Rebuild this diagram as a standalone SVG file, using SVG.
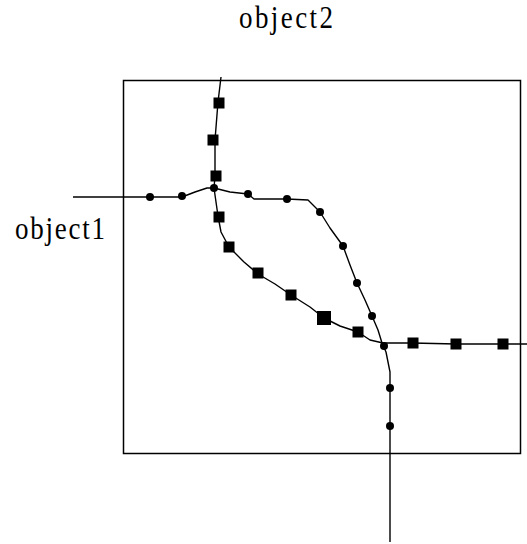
<svg xmlns="http://www.w3.org/2000/svg" width="527" height="544" viewBox="0 0 527 544">
<style>
.ln{fill:none;stroke:#000;stroke-width:1.4;stroke-linejoin:round}
.lbl{font-family:"Liberation Serif",serif;font-size:27px;fill:#000}
</style>
<defs>
<circle id="dot" r="4" fill="#000"/>
<rect id="sq" x="-5.5" y="-5.5" width="11" height="11" fill="#000"/>
</defs>
<rect x="123.5" y="80.5" width="397" height="373" fill="none" stroke="#000" stroke-width="1.5"/>
<g id="label-object2"><text class="lbl" transform="translate(239,27.5) scale(1,1.15)" textLength="94" lengthAdjust="spacing">object2</text></g>
<g id="label-object1"><text class="lbl" transform="translate(15,239) scale(1,1.15)" textLength="90" lengthAdjust="spacing">object1</text></g>
<g id="connectors">
<polyline class="ln" points="73,197 150,197 182,197 195,192 207,188 214,188 230,192 248,194 254,199 287,199 308,200 320,212 330,228 343,246 350,265 357,283 365,300 372,316 378,330 382,343 386,352 390,372 390,388 390,426 390,542"/>
<polyline class="ln" points="221,77 218,102 215,140 215,176 214,188 218,216 221,232 229,247 244,262 258,274 275,284 291,295 310,307 324,318 340,326 358,332 370,340 383,343 412,343 456,344 527,344"/>
</g>
<g id="object1-points">
<use href="#dot" x="150" y="197"/><use href="#dot" x="182" y="196"/><use href="#dot" x="214" y="188"/><use href="#dot" x="248" y="194"/><use href="#dot" x="287" y="199"/><use href="#dot" x="320" y="212"/><use href="#dot" x="343" y="246"/><use href="#dot" x="357" y="283"/><use href="#dot" x="372" y="316"/><use href="#dot" x="384" y="346"/><use href="#dot" x="390" y="388"/><use href="#dot" x="390" y="426"/>
</g>
<g id="object2-points">
<use href="#sq" x="219" y="103"/><use href="#sq" x="213" y="140"/><use href="#sq" x="216" y="176"/><use href="#sq" x="219" y="217"/><use href="#sq" x="229" y="247"/><use href="#sq" x="258" y="273"/><use href="#sq" x="291" y="295"/><rect x="317" y="311" width="14" height="14" fill="#000"/><use href="#sq" x="358" y="332"/><use href="#sq" x="413" y="343"/><use href="#sq" x="456" y="344"/><use href="#sq" x="503" y="344"/>
</g>
</svg>
